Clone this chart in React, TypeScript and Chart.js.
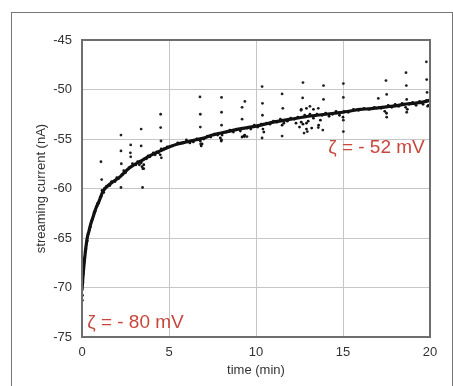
import React, { useEffect, useRef } from "react";
import { Chart, registerables } from "chart.js";

Chart.register(...registerables);

// Smoothed trend of the streaming current (time in min, current in nA)
const trendTime = [0, 0.05, 0.1, 0.2, 0.3, 0.4, 0.5, 0.65, 0.8, 1.0, 1.2, 1.5, 1.8, 2.2, 2.6, 3.0, 3.5, 4.0, 4.5, 5, 5.5, 6, 6.5, 7, 7.5, 8, 8.5, 9, 9.5, 10, 10.5, 11, 11.5, 12, 12.5, 13, 13.5, 14, 14.5, 15, 15.5, 16, 16.5, 17, 17.5, 18, 18.5, 19, 19.5, 20];
const trendCurrent = [-70.3, -69.0, -68.0, -66.3, -65.0, -64.3, -63.6, -62.8, -62.0, -61.2, -60.3, -59.7, -59.3, -58.8, -58.1, -57.6, -57.1, -56.6, -56.2, -55.8, -55.5, -55.3, -55.1, -54.9, -54.6, -54.4, -54.2, -54.0, -53.85, -53.7, -53.5, -53.3, -53.15, -53.0, -52.85, -52.7, -52.6, -52.5, -52.4, -52.3, -52.15, -52.0, -51.95, -51.85, -51.75, -51.65, -51.5, -51.4, -51.3, -51.1];

// Measured points close to the trend
const bandPoints: [number, number][] = [
  [0.02, -71.3], [0.03, -70.8], [0.05, -69.5], [0.08, -68.6], [0.12, -67.4], [0.15, -67.0], [0.18, -66.4], [0.22, -66.1], [0.25, -65.6], [0.3, -65.3],
  [0.35, -64.6], [0.42, -64.2], [0.48, -63.9], [0.55, -63.3], [0.6, -63.1], [0.7, -62.4], [0.75, -62.3], [0.85, -61.8], [0.9, -61.5], [0.95, -61.5],
  [1.05, -60.9], [1.1, -60.8], [1.15, -60.2], [1.25, -60.4], [1.3, -60.0], [1.4, -59.8], [1.6, -59.7], [1.7, -59.3], [1.9, -59.3], [2.0, -58.9],
  [2.1, -59.0], [2.3, -58.6], [2.4, -58.2], [2.5, -58.4], [2.7, -57.9], [2.8, -57.8], [2.9, -57.5], [3.1, -57.6], [3.2, -57.3], [3.3, -57.6],
  [3.4, -57.4], [3.45, -57.8], [3.5, -58.0], [3.55, -57.6], [3.6, -57.0], [3.7, -57.0], [3.8, -56.7], [3.9, -56.8], [4.1, -56.4], [4.2, -56.6],
  [4.3, -56.3], [4.4, -56.4], [4.5, -56.6], [4.55, -56.0], [4.7, -56.0], [4.9, -55.8], [5.2, -55.7], [5.5, -55.4], [5.8, -55.4], [6.0, -55.1],
  [6.2, -55.4], [6.4, -55.3], [6.6, -55.0], [6.8, -55.2], [6.85, -55.7], [6.9, -55.5], [7.0, -55.0], [7.2, -54.7], [7.4, -54.8], [7.6, -54.5],
  [7.8, -54.6], [7.95, -54.9], [8.0, -55.2], [8.05, -54.6], [8.3, -54.3], [8.5, -54.1], [8.7, -54.3], [8.9, -54.0], [9.1, -54.2], [9.2, -54.8],
  [9.3, -54.7], [9.35, -54.6], [9.5, -53.9], [9.7, -54.0], [9.9, -53.6], [10.1, -53.8], [10.3, -53.5], [10.4, -54.0], [10.45, -54.3], [10.6, -53.4],
  [10.8, -53.5], [11.0, -53.2], [11.2, -53.3], [11.4, -53.0], [11.5, -53.6], [11.6, -53.4], [11.8, -53.2], [12.0, -52.9], [12.2, -53.0], [12.4, -52.8],
  [12.6, -53.3], [12.7, -53.5], [12.8, -52.6], [12.9, -53.4], [13.0, -53.2], [13.1, -52.5], [13.3, -52.9], [13.5, -52.5], [13.7, -53.1], [13.8, -52.6],
  [14.0, -52.4], [14.2, -52.7], [14.4, -52.5], [14.6, -52.2], [14.8, -52.6], [15.0, -52.8], [15.05, -52.2], [15.3, -52.3], [15.6, -52.0], [15.9, -52.1],
  [16.2, -51.9], [16.5, -52.0], [16.8, -51.8], [17.2, -51.9], [17.4, -52.2], [17.5, -52.4], [17.6, -51.6], [17.8, -51.8], [18.0, -51.5], [18.2, -51.7],
  [18.4, -51.4], [18.6, -51.8], [18.7, -52.0], [18.8, -51.5], [19.0, -51.3], [19.2, -51.6], [19.4, -51.2], [19.6, -51.5], [19.8, -51.1], [19.9, -51.6],
  [20.0, -51.0], [12.5, -53.8], [12.9, -54.0], [13.2, -53.9], [13.6, -53.6], [12.3, -53.4], [12.6, -52.0], [12.9, -51.9], [13.3, -52.0],
];

// Scattered outlying points
const outlierPoints: [number, number][] = [
  [1.09, -57.3], [1.13, -59.1], [2.24, -54.6], [2.24, -56.2], [2.26, -57.5], [2.24, -59.9], [2.8, -55.6], [2.78, -56.4], [2.8, -56.8],
  [3.4, -54.0], [3.4, -55.7], [3.48, -59.9], [3.55, -58.0], [4.52, -52.5], [4.52, -53.85], [4.54, -55.2], [4.56, -56.9],
  [6.78, -50.75], [6.8, -52.5], [6.8, -53.8], [6.82, -55.5], [8.02, -50.8], [8.02, -52.3], [8.02, -53.6], [8.02, -55.1],
  [9.2, -51.8], [9.36, -51.2], [9.2, -53.0], [9.34, -54.75], [9.48, -54.75], [10.35, -49.7], [10.37, -51.4], [10.37, -52.6], [10.35, -54.9],
  [11.5, -50.45], [11.54, -51.9], [11.5, -54.7], [12.7, -49.3], [12.68, -50.85], [12.59, -52.1], [12.76, -54.4], [12.95, -54.25],
  [13.1, -51.7], [13.58, -51.9], [13.88, -49.6], [13.88, -51.0], [13.84, -54.1], [13.58, -53.85], [15.02, -49.4], [15.02, -50.8],
  [15.02, -53.1], [15.02, -54.25], [17.03, -50.9], [17.47, -49.1], [17.51, -50.5], [17.51, -52.8], [18.62, -48.3], [18.64, -49.6],
  [18.66, -51.0], [18.66, -52.3], [19.79, -47.2], [19.81, -49.0], [19.83, -50.3], [19.86, -51.7],
];

const xTicks = [0, 5, 10, 15, 20];
const yTicks = [-75, -70, -65, -60, -55, -50, -45];

const annotations = [
  { text: "ζ = - 52 mV", t: 19.7, v: -55.9, align: "right" as CanvasTextAlign },
  { text: "ζ = - 80 mV", t: 0.3, v: -73.6, align: "left" as CanvasTextAlign },
];

const FONT = '"Liberation Sans", Arial, Helvetica, sans-serif';

const overlayPlugin = {
  id: "overlay",
  afterDatasetsDraw(chart: any) {
    const { ctx, chartArea, scales } = chart;
    const { left, top, right, bottom } = chartArea;
    ctx.save();
    ctx.strokeStyle = "#6e6e6e";
    ctx.lineWidth = 2;
    ctx.strokeRect(left, top, right - left, bottom - top);
    ctx.fillStyle = "#c8473d";
    ctx.font = `19px ${FONT}`;
    ctx.textBaseline = "middle";
    annotations.forEach((a) => {
      ctx.textAlign = a.align;
      ctx.fillText(a.text, scales.x.getPixelForValue(a.t), scales.y.getPixelForValue(a.v));
    });
    ctx.restore();
  },
};

export default function App() {
  const ref = useRef<HTMLCanvasElement | null>(null);

  useEffect(() => {
    if (!ref.current) return;
    const chart = new Chart(ref.current, {
      type: "scatter",
      data: {
        datasets: [
          {
            type: "line",
            data: trendTime.map((t, i) => ({ x: t, y: trendCurrent[i] })),
            borderColor: "#111",
            borderWidth: 3.2,
            pointRadius: 0,
            tension: 0.4,
            cubicInterpolationMode: "monotone",
            fill: false,
          } as any,
          {
            data: bandPoints.map(([x, y]) => ({ x, y })),
            backgroundColor: "#111",
            borderWidth: 0,
            pointRadius: 1.4,
          },
          {
            data: outlierPoints.map(([x, y]) => ({ x, y })),
            backgroundColor: "#222",
            borderWidth: 0,
            pointRadius: 1.4,
          },
        ],
      },
      options: {
        responsive: false,
        animation: false,
        layout: { padding: { top: 40, right: 23, left: 0, bottom: 0 } },
        plugins: { legend: { display: false }, tooltip: { enabled: false } },
        scales: {
          x: {
            type: "linear",
            min: 0,
            max: 20,
            afterBuildTicks: (s: any) => { s.ticks = xTicks.map((v) => ({ value: v })); },
            afterFit: (s: any) => { s.height = 49; },
            ticks: { color: "#333", font: { family: FONT, size: 13 }, padding: 8 },
            grid: { color: "#c6c6c6", lineWidth: 1, drawTicks: false },
            border: { display: false },
            title: { display: true, text: "time (min)", color: "#333", font: { family: FONT, size: 13 }, padding: { top: 0, bottom: 8 } },
          },
          y: {
            type: "linear",
            min: -75,
            max: -45,
            afterBuildTicks: (s: any) => { s.ticks = yTicks.map((v) => ({ value: v })); },
            afterFit: (s: any) => { s.width = 82; },
            ticks: { color: "#333", font: { family: FONT, size: 13 }, padding: 10 },
            grid: { color: "#c6c6c6", lineWidth: 1, drawTicks: false },
            border: { display: false },
            title: { display: true, text: "streaming current (nA)", color: "#333", font: { family: FONT, size: 13 }, padding: { top: 34, bottom: 0 } },
          },
        },
      },
      plugins: [overlayPlugin],
    });
    return () => chart.destroy();
  }, []);

  return (
    <>
      <div
        style={{
          position: "fixed",
          left: 11,
          top: 12,
          width: 442,
          height: 400,
          border: "1.5px solid #777",
          boxSizing: "border-box",
        }}
      />
      <canvas
        ref={ref}
        width={453}
        height={386}
        style={{ position: "fixed", left: 0, top: 0, width: 453, height: 386 }}
      />
    </>
  );
}
